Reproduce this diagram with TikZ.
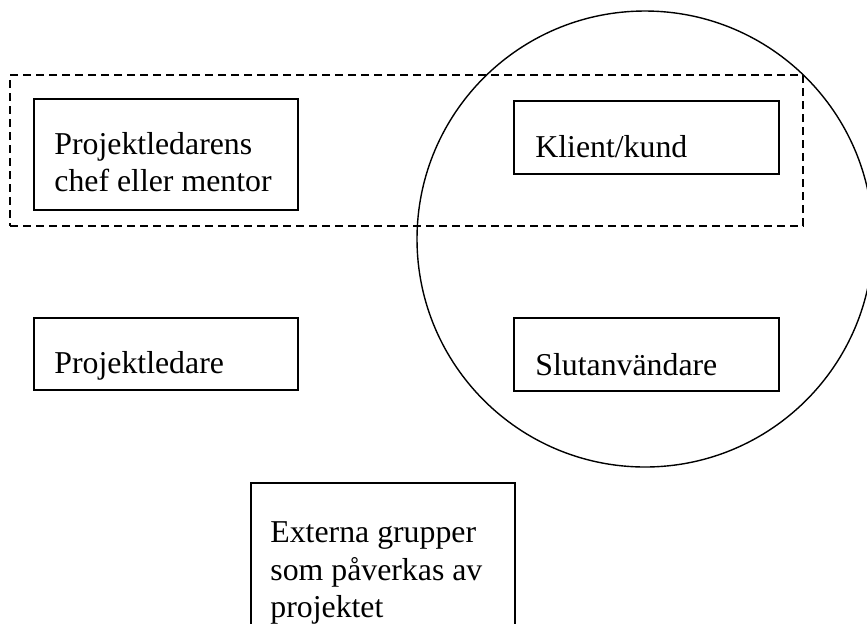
\documentclass[tikz,border=0pt]{standalone}
\usepackage{fontspec}
\setmainfont{Liberation Serif}
\usetikzlibrary{fit}
\begin{document}
\begin{tikzpicture}[x=0.5pt,y=-0.5pt,
  box/.style={draw, line width=0.7pt, inner sep=0pt},
  group/.style={draw, line width=0.7pt, dash pattern=on 4pt off 2.5pt, inner sep=0pt},
  lbl/.style={inner sep=0pt, anchor=base west, font=\fontsize{15.9pt}{18.5pt}\selectfont}]
\useasboundingbox (0,0) rectangle (867,623);
\clip (0,0) rectangle (867,623);

% stakeholder ring
\node[draw, line width=0.7pt, circle, minimum size=228pt, inner sep=0pt] (ring) at (645,239) {};

% dashed grouping of the upper row
\node[group, fit={(10,75) (803,226)}] (upper) {};

% boxes
\node[box, fit={(34,99) (298,210)}] (mentorbox) {};
\node[box, fit={(514,101) (779,174)}] (clientbox) {};
\node[box, fit={(34,318) (298,390)}] (leaderbox) {};
\node[box, fit={(514,318) (779,391)}] (userbox) {};
\node[box, fit={(251,483) (515,660)}] (externbox) {};

% labels
\node[lbl] (mentor1) at (54,154) {Projektledarens};
\node[lbl] (mentor2) at (54,191) {chef eller mentor};
\node[lbl] (client) at (535,157) {Klient/kund};
\node[lbl] (leader) at (54,373) {Projektledare};
\node[lbl] (user) at (535,375) {Slutanvändare};
\node[lbl] (extern1) at (270,542) {Externa grupper};
\node[lbl] (extern2) at (270,580) {som påverkas av};
\node[lbl] (extern3) at (270,617) {projektet};
\end{tikzpicture}
\end{document}
